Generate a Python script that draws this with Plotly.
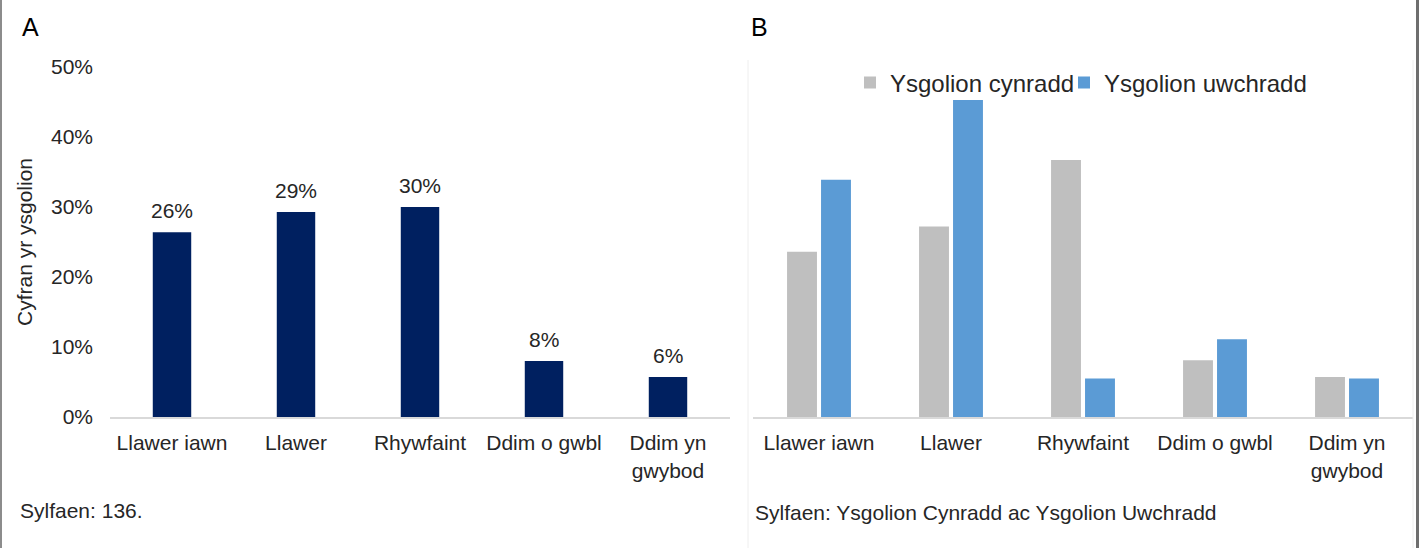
import plotly.graph_objects as go

categories = ["Llawer iawn", "Llawer", "Rhywfaint", "Ddim o gwbl", "Ddim yn<br>gwybod"]
values_all = [26.4, 29.3, 30.0, 8.0, 5.7]
values_cynradd = [23.6, 27.2, 36.7, 8.1, 5.7]
values_uwchradd = [33.9, 45.3, 5.5, 11.1, 5.5]
y_ticks = [0, 10, 20, 30, 40, 50]
y_tick_labels = ["0%", "10%", "20%", "30%", "40%", "50%"]
series_names = ["Ysgolion cynradd", "Ysgolion uwchradd"]

W, H = 1421, 548
FONT = "Liberation Sans, Arial, sans-serif"
TXT = "#262626"

def px_x(p):
    return p / W

def px_y(p):
    return 1 - p / H

fig = go.Figure()

fig.add_trace(go.Bar(
    x=categories, y=values_all, marker_color="#002060", width=0.31,
    marker_line_width=0, xaxis="x", yaxis="y", showlegend=False,
))
fig.add_trace(go.Bar(
    x=categories, y=values_cynradd, name=series_names[0], marker_color="#BFBFBF",
    marker_line_width=0, xaxis="x2", yaxis="y2", legend="legend",
))
fig.add_trace(go.Bar(
    x=categories, y=values_uwchradd, name=series_names[1], marker_color="#5B9BD5",
    marker_line_width=0, xaxis="x2", yaxis="y2", legend="legend2",
))

annotations = []
for c, v in zip(categories, values_all):
    annotations.append(dict(
        x=c, y=v, xref="x", yref="y", text=f"{v:.0f}%", showarrow=False,
        yanchor="bottom", yshift=8, font=dict(family=FONT, size=21, color=TXT),
    ))

annotations += [
    dict(x=px_x(20), y=px_y(27), xref="paper", yref="paper", text="A", showarrow=False,
         xanchor="left", yanchor="middle", font=dict(family=FONT, size=25, color="#000000")),
    dict(x=px_x(749), y=px_y(27), xref="paper", yref="paper", text="B", showarrow=False,
         xanchor="left", yanchor="middle", font=dict(family=FONT, size=25, color="#000000")),
    dict(x=px_x(18), y=px_y(510), xref="paper", yref="paper", text="Sylfaen: 136.", showarrow=False,
         xanchor="left", yanchor="middle", font=dict(family=FONT, size=21, color=TXT)),
    dict(x=px_x(753), y=px_y(512), xref="paper", yref="paper",
         text="Sylfaen: Ysgolion Cynradd ac Ysgolion Uwchradd", showarrow=False,
         xanchor="left", yanchor="middle", font=dict(family=FONT, size=21, color=TXT)),
]

shapes = [
    dict(type="line", xref="paper", yref="paper", x0=px_x(1), x1=px_x(1), y0=0, y1=1,
         line=dict(color="#8c8c8c", width=2)),
    dict(type="line", xref="paper", yref="paper", x0=px_x(1417.5), x1=px_x(1417.5), y0=0, y1=1,
         line=dict(color="#6e6e6e", width=3)),
    dict(type="line", xref="paper", yref="paper", x0=px_x(748), x1=px_x(748), y0=0, y1=px_y(60),
         line=dict(color="#eeeeee", width=1)),
    dict(type="line", xref="paper", yref="paper", x0=px_x(1413), x1=px_x(1413), y0=0, y1=px_y(60),
         line=dict(color="#eeeeee", width=1)),
]

tickfont = dict(family=FONT, size=21, color=TXT)
ydom = [px_y(417), px_y(67)]
legfont = dict(family=FONT, size=24, color=TXT)

fig.update_layout(
    width=W, height=H,
    margin=dict(l=0, r=0, t=0, b=0, pad=0, autoexpand=False),
    paper_bgcolor="white", plot_bgcolor="white",
    barmode="group", bargap=0.485, bargroupgap=0.12,
    font=dict(family=FONT, size=21, color=TXT),
    xaxis=dict(domain=[px_x(110), px_x(730)], showgrid=False, showline=True, automargin=False,
               linecolor="#d9d9d9", linewidth=2, tickfont=tickfont,
               ticks="", ticklabelstandoff=6, fixedrange=True),
    yaxis=dict(domain=ydom, range=[0, 50], tickvals=y_ticks, ticktext=y_tick_labels,
               showgrid=False, zeroline=False, showline=False, tickfont=tickfont, automargin=False,
               ticks="", ticklabelstandoff=16, fixedrange=True,
               title=dict(text="Cyfran yr ysgolion", font=dict(family=FONT, size=21, color=TXT),
                          standoff=12)),
    xaxis2=dict(domain=[px_x(753), px_x(1413)], anchor="y2", showgrid=False, showline=True,
                automargin=False, linecolor="#d9d9d9", linewidth=2, tickfont=tickfont,
                ticks="", ticklabelstandoff=6, fixedrange=True),
    yaxis2=dict(domain=ydom, range=[0, 50], anchor="x2", visible=False, automargin=False,
                fixedrange=True),
    legend=dict(orientation="h", x=px_x(850), y=px_y(83), xanchor="left", yanchor="middle",
                font=legfont, bgcolor="rgba(0,0,0,0)", itemwidth=30),
    legend2=dict(orientation="h", x=px_x(1064), y=px_y(83), xanchor="left", yanchor="middle",
                 font=legfont, bgcolor="rgba(0,0,0,0)", itemwidth=30),
    annotations=annotations,
    shapes=shapes,
)

fig.write_html(
    "out.html",
    config={"displayModeBar": False},
    post_script="document.body.style.margin='0';document.body.style.overflow='hidden';",
)
